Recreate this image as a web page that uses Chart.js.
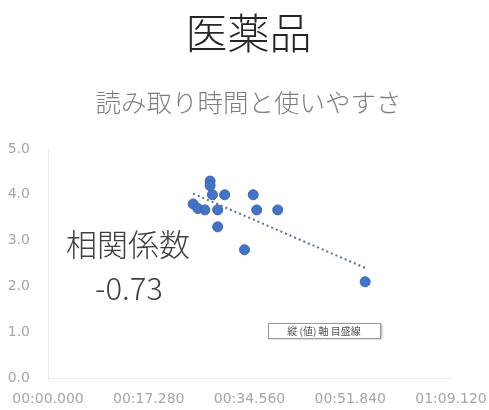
<!DOCTYPE html>
<html>
<head>
<meta charset="utf-8">
<script src="https://cdn.jsdelivr.net/npm/chart.js@4/dist/chart.umd.min.js"></script>
<style>
  html, body { margin: 0; padding: 0; background: #fff; }
  #wrap { width: 489px; height: 410px; }
</style>
</head>
<body>
<div id="wrap"><canvas id="Chart"></canvas></div>
<script>
// reading time (seconds) vs usability score
const readTimes = [27.8, 27.8, 28.2, 30.3, 35.2, 24.9, 25.7, 26.9, 29.1, 35.8, 39.4, 29.1, 33.7, 54.4];
const usability = [4.3, 4.2, 4.0, 4.0, 4.0, 3.8, 3.7, 3.67, 3.67, 3.67, 3.67, 3.3, 2.8, 2.1];
const xTicks = [0, 17.28, 34.56, 51.84, 69.12];
const yTicks = [0, 1, 2, 3, 4, 5];
const corrLabel = ["相関係数", "-0.73"];
const hoverLabel = "縦 (値) 軸 目盛線";

const points = readTimes.map((t, i) => ({ x: t, y: usability[i] }));

// least squares trend line over the data range
function trend(xs, ys) {
  const n = xs.length;
  const mx = xs.reduce((a, b) => a + b, 0) / n;
  const my = ys.reduce((a, b) => a + b, 0) / n;
  let sxy = 0, sxx = 0;
  for (let i = 0; i < n; i++) {
    sxy += (xs[i] - mx) * (ys[i] - my);
    sxx += (xs[i] - mx) * (xs[i] - mx);
  }
  const b = sxy / sxx;
  const a = my - b * mx;
  const x0 = Math.min(...xs), x1 = Math.max(...xs);
  return [{ x: x0, y: a + b * x0 }, { x: x1, y: a + b * x1 }];
}
const trendLine = trend(readTimes, usability);

function fmtTime(sec) {
  const m = Math.floor(sec / 60);
  const s = sec - m * 60;
  const ss = s.toFixed(3).padStart(6, "0");
  return String(m).padStart(2, "0") + ":" + ss;
}

const cjk = "'Noto Sans CJK JP', 'Noto Sans', sans-serif";

const textPlugin = {
  id: "textboxes",
  afterDraw(chart) {
    const ctx = chart.ctx;
    ctx.save();
    // correlation text box
    ctx.fillStyle = "#3f3f3f";
    ctx.font = "300 31px " + cjk;
    ctx.textAlign = "center";
    ctx.textBaseline = "middle";
    ctx.fillText(corrLabel[0], 128, 244);
    ctx.fillText(corrLabel[1], 129, 288);

    // hover tip
    const bx = 268, by = 323, bw = 112, bh = 15;
    ctx.shadowColor = "rgba(0,0,0,0.35)";
    ctx.shadowBlur = 2;
    ctx.shadowOffsetX = 2;
    ctx.shadowOffsetY = 1;
    ctx.fillStyle = "#fff";
    ctx.fillRect(bx, by, bw, bh);
    ctx.shadowColor = "transparent";
    ctx.strokeStyle = "#9a9a9a";
    ctx.lineWidth = 1;
    ctx.strokeRect(bx + 0.5, by + 0.5, bw, bh);
    ctx.fillStyle = "#555";
    ctx.font = "10px " + cjk;
    ctx.fillText(hoverLabel, bx + bw / 2, by + bh / 2 + 1);
    ctx.restore();
  }
};

new Chart("Chart", {
  type: "scatter",
  data: {
    datasets: [{
      data: points,
      backgroundColor: "#4472C4",
      borderColor: "#3b66b4",
      borderWidth: 1,
      pointRadius: 5,
      order: 1
    }, {
      type: "line",
      data: trendLine,
      borderColor: "#5670a3",
      borderWidth: 2,
      borderDash: [2, 3],
      pointRadius: 0,
      fill: false,
      order: 2
    }]
  },
  options: {
    responsive: true,
    maintainAspectRatio: false,
    animation: false,
    events: [],
    layout: { padding: { left: 8, right: 0, top: 0, bottom: 2 } },
    plugins: {
      legend: { display: false },
      tooltip: { enabled: false },
      title: {
        display: true,
        text: "医薬品",
        color: "#262626",
        font: { family: cjk, size: 42, weight: 300, lineHeight: 1.2 },
        padding: { top: 8, bottom: 0 }
      },
      subtitle: {
        display: true,
        text: "読み取り時間と使いやすさ",
        color: "#7f7f7f",
        font: { family: cjk, size: 25.5, weight: 300, lineHeight: 1.2 },
        padding: { top: 29, bottom: 31 }
      }
    },
    scales: {
      x: {
        type: "linear",
        min: xTicks[0],
        max: xTicks[xTicks.length - 1],
        afterBuildTicks: (s) => { s.ticks = xTicks.map(v => ({ value: v })); },
        afterFit: (s) => { s.height = 30; s.paddingLeft = 0; s.paddingRight = 38; },
        grid: { display: false, drawTicks: false },
        border: { display: true, color: "#ececec" },
        ticks: {
          padding: 13,
          color: "#a6a6a6",
          font: { family: "'DejaVu Sans'", size: 14 },
          maxRotation: 0,
          autoSkip: false,
          callback: (v) => fmtTime(v)
        }
      },
      y: {
        min: yTicks[0],
        max: yTicks[yTicks.length - 1],
        afterBuildTicks: (s) => { s.ticks = yTicks.map(v => ({ value: v })); },
        afterFit: (s) => { s.width = 40; },
        grid: { display: false, drawTicks: false },
        border: { display: true, color: "#ececec" },
        ticks: {
          padding: 18,
          color: "#a6a6a6",
          font: { family: "'DejaVu Sans'", size: 14 },
          callback: (v) => v.toFixed(1)
        }
      }
    }
  },
  plugins: [textPlugin]
});
</script>
</body>
</html>
